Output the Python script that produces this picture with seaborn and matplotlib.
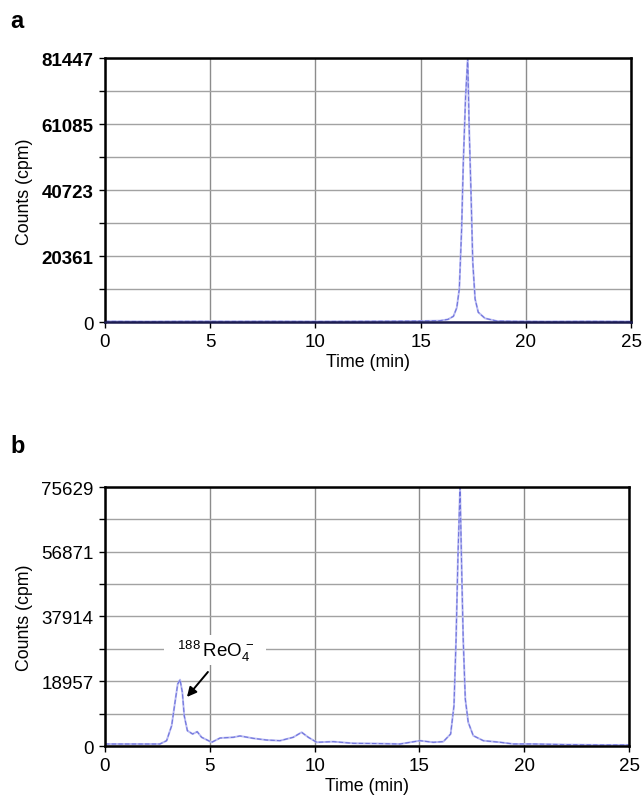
import matplotlib
matplotlib.use("Agg")
import matplotlib.pyplot as plt
import seaborn as sns
import pandas as pd
from matplotlib.ticker import FixedLocator

sns.set_style("white")
plt.rcParams['font.family'] = ['Liberation Sans', 'DejaVu Sans']
plt.rcParams['mathtext.fontset'] = 'custom'
plt.rcParams['mathtext.rm'] = 'Liberation Sans'
plt.rcParams['mathtext.it'] = 'Liberation Sans:italic'
plt.rcParams['mathtext.bf'] = 'Liberation Sans:bold'
plt.rcParams['text.color'] = 'black'
plt.rcParams['axes.labelcolor'] = 'black'
plt.rcParams['xtick.color'] = 'black'
plt.rcParams['ytick.color'] = 'black'

# Panel a data
time_a = [0.0, 2.0, 4.0, 6.0, 8.0, 10.0, 12.0, 14.0, 15.0, 15.92, 16.3, 16.56, 16.72, 16.84, 16.95,
          17.03, 17.14, 17.24, 17.31, 17.40, 17.48, 17.59, 17.74, 18.06, 18.62, 19.5, 21.0, 23.0, 25.0]
counts_a = [300, 250, 300, 280, 300, 260, 300, 350, 400, 500, 900, 1850, 4500, 10270, 28800,
            49400, 69900, 81447, 59600, 39000, 18500, 7200, 3100, 1230, 400, 300, 250, 300, 250]

# Panel b data
time_b = [0.0, 1.35, 2.62, 2.94, 3.18, 3.34, 3.47, 3.58, 3.69, 3.78, 3.93, 4.18, 4.40, 4.61, 5.09,
          5.49, 6.12, 6.44, 7.08, 7.71, 8.35, 8.98, 9.38, 9.70, 10.1, 10.89, 11.85, 13.0, 14.07,
          15.03, 15.66, 16.14, 16.49, 16.65, 16.75, 16.84, 16.94, 17.02, 17.09, 17.19, 17.33, 17.57,
          18.05, 18.85, 19.48, 20.4, 22.0, 23.6, 25.0]
counts_b = [670, 670, 670, 1640, 6020, 12850, 18200, 19450, 15770, 8940, 4560, 3590, 4260, 2630, 1170,
            2420, 2630, 3020, 2320, 1830, 1640, 2630, 4090, 2630, 1170, 1360, 870, 800, 670,
            1640, 1170, 1360, 3590, 11860, 31330, 55650, 75629, 50800, 31330, 13800, 7000, 3100,
            1640, 1170, 680, 680, 500, 400, 400]

yticks_a = [0, 20361, 40723, 61085, 81447]
yticks_b = [0, 18957, 37914, 56871, 75629]
xticks = [0, 5, 10, 15, 20, 25]

fig = plt.figure(figsize=(6.44, 8.03), dpi=100)
ax_a = fig.add_axes([105/644, 1-323.3/803, 526/644, 264/803])
ax_b = fig.add_axes([105/644, 1-747.3/803, 524/644, 259/803])

line_light = '#b8baf2'
line_dark = '#7074dc'

def style(ax, t, c, yt, bold):
    df = pd.DataFrame({'t': t, 'c': c})
    sns.lineplot(data=df, x='t', y='c', ax=ax, color=line_light, lw=1.4)
    sns.lineplot(data=df, x='t', y='c', ax=ax, color=line_dark, lw=0.8, linestyle=(0, (4, 2)))
    ax.set_xlim(0, 25)
    ax.set_ylim(0, yt[-1])
    ax.set_xticks(xticks)
    ax.set_yticks(yt)
    minors = [(yt[i] + yt[i+1]) / 2 for i in range(len(yt) - 1)]
    ax.yaxis.set_minor_locator(FixedLocator(minors))
    ax.grid(True, which='both', axis='y', color='#a2a2a2', lw=1.0)
    ax.grid(True, which='major', axis='x', color='#8c8c8c', lw=1.0)
    ax.set_axisbelow(True)
    for s in ax.spines.values():
        s.set_visible(True)
        s.set_color('black')
        s.set_linewidth(1.8)
    ax.tick_params(axis='both', which='major', direction='out', length=4, width=1, color='black',
                   labelcolor='black', labelsize=13.5, left=True, bottom=True)
    ax.tick_params(axis='y', which='major', pad=4.3)
    ax.tick_params(axis='x', which='major', pad=4)
    ax.tick_params(axis='y', which='minor', direction='out', length=4, width=1, color='black', left=True)
    if bold:
        for lab, v in zip(ax.get_yticklabels(), yt):
            if v != 0:
                lab.set_fontweight('bold')
    ax.set_xlabel('Time (min)', fontsize=12.8, labelpad=2, color='black')
    ax.set_ylabel('Counts (cpm)', fontsize=12.8, color='black')
    ax.yaxis.set_label_coords(-0.137, 0.5)

style(ax_a, time_a, counts_a, yticks_a, True)
style(ax_b, time_b, counts_b, yticks_b, False)
ax_a.spines['bottom'].set_color('#1c1c50')

fig.text(10/644, 1-22/803, 'a', fontsize=17, fontweight='bold', va='center', ha='left', color='black')
fig.text(10/644, 1-447/803, 'b', fontsize=17, fontweight='bold', va='center', ha='left', color='black')

ax_b.text(5.25, 28100, r'  $^{188}\,$ReO$_4^{\,-}$  ', fontsize=13.5, ha='center', va='center',
          color='black', bbox=dict(boxstyle='square,pad=0.15', fc='white', ec='none'))
ax_b.annotate('', xy=(3.91, 14400), xytext=(4.91, 21700),
              arrowprops=dict(arrowstyle='-|>', color='black', lw=1.4, mutation_scale=14,
                              shrinkA=0, shrinkB=0))

fig.savefig('out.png', dpi=100)
